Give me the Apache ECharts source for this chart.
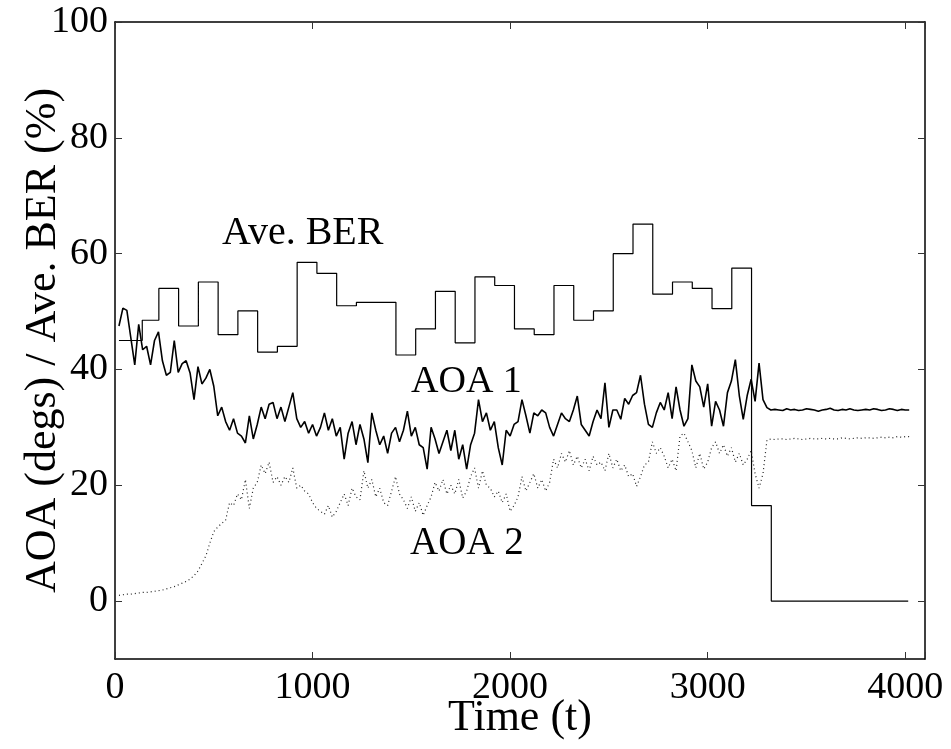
<!DOCTYPE html>
<html><head><meta charset="utf-8">
<script src="https://cdn.jsdelivr.net/npm/echarts@6/dist/echarts.min.js"></script>
<style>html,body{margin:0;padding:0;background:#fff}#c{width:951px;height:749px}</style>
</head><body><div id="c"></div>
<script>
const FONT = "'Liberation Serif','Times New Roman',serif";
const xTicks = [0, 1000, 2000, 3000, 4000];
const yTicks = [0, 20, 40, 60, 80, 100];

// Ave. BER step levels (value holds from berT[i] until berT[i+1])
const berT = [20, 138, 222, 322, 422, 522, 622, 722, 822, 922, 1022, 1122, 1222, 1322, 1422, 1522, 1622, 1722, 1822, 1922, 2022, 2122, 2222, 2322, 2422, 2522, 2622, 2722, 2822, 2922, 3022, 3122, 3222, 3322, 4015];
const berV = [45.0, 48.5, 54.0, 47.5, 55.1, 46.0, 50.1, 43.0, 44.0, 58.5, 56.6, 51.0, 51.6, 51.6, 42.5, 47.0, 53.5, 44.6, 56.0, 54.5, 47.0, 46.0, 54.5, 48.5, 50.1, 60.0, 65.1, 53.0, 55.1, 54.0, 50.5, 57.5, 16.5, 0, 0];

// AOA samples, every 20 time units starting at t = 20
const aoaT0 = 20, aoaDt = 20;
const aoa1 = [
  47.5,50.6,50.2,45.5,40.8,47.8,43.4,44.0,40.8,45.0,
  46.5,41.5,39.0,39.5,45.0,39.5,41.0,41.5,39.4,34.8,
  40.5,37.5,38.5,40.0,37.1,32.0,33.5,31.0,29.5,31.5,
  29.0,28.5,27.3,32.0,28.0,30.5,33.5,31.5,34.0,34.3,
  31.5,33.5,31.0,33.5,36.0,31.5,30.0,31.0,29.0,30.5,
  28.5,30.0,32.5,29.5,31.5,28.5,30.0,24.5,29.0,31.0,
  27.0,30.5,28.0,23.9,32.5,29.5,27.0,28.5,25.5,29.0,
  30.0,27.5,29.5,32.8,28.5,30.0,27.0,26.5,22.8,30.0,
  28.0,25.5,27.5,29.5,26.0,29.5,24.5,27.0,22.8,27.0,
  29.0,34.8,31.0,32.5,29.5,31.0,26.5,23.5,29.5,28.5,
  30.5,31.0,34.8,32.0,29.0,32.5,32.0,33.0,32.5,30.0,
  28.5,30.5,32.5,31.5,31.0,33.0,35.4,30.5,29.5,28.5,
  31.0,33.0,31.5,37.7,30.0,33.0,33.0,31.4,35.0,34.0,
  35.5,36.0,39.0,34.0,30.5,30.0,32.5,34.3,33.0,36.0,
  31.5,37.0,33.0,30.2,31.5,40.8,38.0,37.0,33.5,37.5,
  30.2,34.5,33.0,30.2,36.0,38.0,41.7,35.5,31.4,35.5,
  38.3,34.5,41.1,34.8,33.4,33.0,33.1,33.0,32.9,33.2,
  33.0,33.1,32.9,33.0,33.2,33.1,33.0,32.8,33.0,33.1,
  33.3,33.0,32.9,33.1,33.0,33.2,33.0,32.9,33.0,33.1,
  33.0,33.2,33.1,32.9,33.0,33.2,33.1,32.9,33.1,33.0,
  33.0
];
const aoa2 = [
  1.0,1.1,1.2,1.2,1.3,1.4,1.5,1.5,1.6,1.7,
  1.8,1.9,2.1,2.3,2.5,2.8,3.1,3.4,3.8,4.4,
  5.2,6.5,7.8,10.0,12.0,12.8,13.4,14.0,17.0,16.5,
  18.5,17.5,21.0,16.0,19.5,20.5,23.5,22.0,24.0,20.5,
  21.5,20.0,21.5,20.5,23.0,19.5,20.0,19.0,18.5,17.0,
  16.0,15.5,15.0,16.5,14.5,15.5,17.0,18.5,16.5,19.5,
  18.0,17.5,22.5,19.5,21.0,18.0,19.5,17.0,16.5,19.0,
  21.5,18.5,17.5,16.0,18.0,15.5,17.0,14.8,16.5,18.0,
  20.5,19.0,21.0,18.5,20.0,18.5,21.0,17.8,19.0,21.5,
  23.0,19.5,22.5,20.0,19.5,18.0,19.0,17.0,18.5,15.5,
  16.5,18.0,21.5,19.0,20.5,22.0,19.5,21.0,19.0,20.5,
  24.5,23.0,25.5,24.0,26.0,23.5,25.0,23.0,24.5,22.5,
  25.0,23.5,24.0,22.5,25.5,23.0,24.5,22.5,23.5,21.5,
  22.0,19.8,21.5,23.5,24.0,27.5,25.5,26.5,25.0,23.0,
  24.5,22.5,28.5,29.0,27.5,26.0,23.0,25.5,22.8,24.0,
  26.5,27.5,25.5,27.0,25.0,26.5,24.0,25.5,23.5,24.5,
  26.0,22.0,19.5,22.0,27.8,28.0,27.9,28.0,28.0,27.9,
  28.0,28.1,28.0,27.9,28.0,28.1,28.0,28.0,28.1,28.0,
  28.1,28.0,28.0,28.2,28.1,28.0,28.1,28.2,28.1,28.2,
  28.2,28.1,28.2,28.3,28.2,28.3,28.2,28.4,28.3,28.4,
  28.4
];

function pairs(vals) { return vals.map((v, i) => [aoaT0 + i * aoaDt, v]); }

const chart = echarts.init(document.getElementById('c'), null, { renderer: 'canvas' });
const frameLine = { show: true, onZero: false, lineStyle: { color: '#000', width: 1.5 } };
const tickStyle = { color: '#333', width: 1 };
const labelFont = { fontFamily: FONT, fontSize: 38, color: '#000' };
const titleFont = { fontFamily: FONT, fontSize: 44, color: '#000' };

chart.setOption({
  animation: false,
  backgroundColor: '#fff',
  grid: { left: 115, top: 22, right: 26, bottom: 90, containLabel: false, outerBoundsMode: 'none' },
  xAxis: [
    {
      type: 'value', min: 0, max: 4100, interval: 1000, position: 'bottom',
      name: 'Time (t)', nameLocation: 'middle', nameGap: 37, nameMoveOverlap: false,
      nameTextStyle: titleFont,
      axisLine: frameLine,
      axisTick: { inside: true, length: 7, lineStyle: tickStyle },
      axisLabel: Object.assign({ margin: 10, formatter: v => xTicks.includes(v) ? String(v) : '' }, labelFont),
      splitLine: { show: false }
    },
    {
      type: 'value', min: 0, max: 4100, interval: 1000, position: 'top',
      axisLine: frameLine,
      axisTick: { inside: true, length: 7, lineStyle: tickStyle },
      axisLabel: { show: false },
      splitLine: { show: false }
    }
  ],
  yAxis: [
    {
      type: 'value', min: -10, max: 100, position: 'left',
      name: 'AOA (degs) / Ave. BER (%)', nameLocation: 'middle', nameGap: 50, nameRotate: 90, nameMoveOverlap: false,
      nameTextStyle: titleFont,
      axisLine: frameLine,
      axisTick: { inside: true, length: 7, lineStyle: tickStyle, customValues: yTicks },
      axisLabel: Object.assign({ margin: 7, customValues: yTicks }, labelFont),
      splitLine: { show: false }
    },
    {
      type: 'value', min: -10, max: 100, position: 'right',
      axisLine: frameLine,
      axisTick: { inside: true, length: 7, lineStyle: tickStyle, customValues: yTicks },
      axisLabel: { show: false },
      splitLine: { show: false }
    }
  ],
  series: [
    {
      name: 'Ave. BER', type: 'line', step: 'end', showSymbol: false, xAxisIndex: 0, yAxisIndex: 0,
      data: berT.map((t, i) => [t, berV[i]]),
      lineStyle: { color: '#000', width: 1.2 }
    },
    {
      name: 'AOA 1', type: 'line', showSymbol: false, xAxisIndex: 0, yAxisIndex: 0,
      data: pairs(aoa1),
      lineStyle: { color: '#000', width: 1.6 }
    },
    {
      name: 'AOA 2', type: 'line', showSymbol: false, xAxisIndex: 0, yAxisIndex: 0,
      data: pairs(aoa2),
      lineStyle: { color: '#222', width: 1.2, type: [1, 3] }
    }
  ],
  graphic: [
    { type: 'text', x: 222, y: 233, style: { text: 'Ave. BER', font: '40px ' + FONT, fill: '#000', align: 'left', verticalAlign: 'middle' } },
    { type: 'text', x: 411, y: 382, style: { text: 'AOA 1', font: '38px ' + FONT, fill: '#000', align: 'left', verticalAlign: 'middle' } },
    { type: 'text', x: 410, y: 544, style: { text: 'AOA 2', font: '39px ' + FONT, fill: '#000', align: 'left', verticalAlign: 'middle' } }
  ]
});
</script>
</body></html>
